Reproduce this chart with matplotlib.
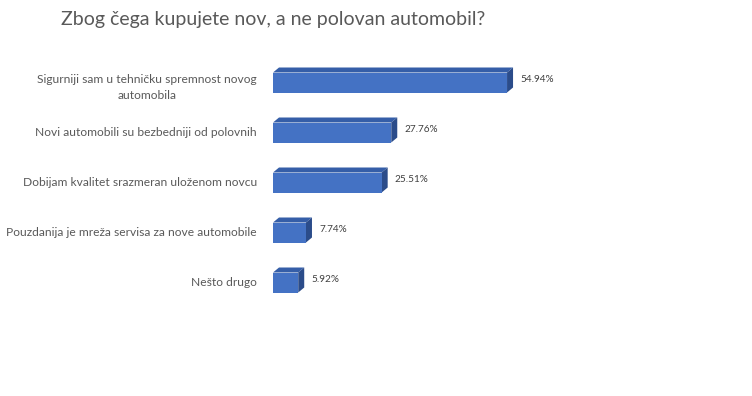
import matplotlib.pyplot as plt
from matplotlib.patches import Polygon

categories = [
    "Sigurniji sam u tehničku spremnost novog\nautomobila",
    "Novi automobili su bezbedniji od polovnih",
    "Dobijam kvalitet srazmeran uloženom novcu",
    "Pouzdanija je mreža servisa za nove automobile",
    "Nešto drugo",
]
values = [54.94, 27.76, 25.51, 7.74, 5.92]
value_labels = ["54.94%", "27.76%", "25.51%", "7.74%", "5.92%"]

FRONT = "#4472C4"
TOP = "#355EA8"
SIDE = "#2B4C8A"
TEXT = "#595959"

W, H = 752, 396
fig = plt.figure(figsize=(W / 100, H / 100), dpi=100)
plt.rcParams["font.family"] = ["Lato", "DejaVu Sans"]

# axes placed so that 0% sits where the bars start
ax_left, ax_right = 273, 699
ax_top, ax_bottom = 57.5, 307.5
ax = fig.add_axes([ax_left / W, 1 - ax_bottom / H,
                   (ax_right - ax_left) / W, (ax_bottom - ax_top) / H])
ax.set_xlim(0, 100)
ax.set_ylim(len(categories) - 0.5, -0.5)
ax.axis("off")

px_x = 100 / (ax_right - ax_left)       # percent per pixel
px_y = len(categories) / (ax_bottom - ax_top)  # category units per pixel
dx, dy = 6 * px_x, 5 * px_y
bar_h = 20 * px_y

ys = list(range(len(categories)))
ax.barh(ys, values, height=bar_h, color=FRONT, zorder=3)

for y, v, lab, cat in zip(ys, values, value_labels, categories):
    top = y - bar_h / 2
    bot = y + bar_h / 2
    # top face
    ax.add_patch(Polygon([(0, top), (v, top), (v + dx, top - dy), (dx, top - dy)],
                         closed=True, facecolor=TOP, edgecolor="none", zorder=2))
    # side face
    ax.add_patch(Polygon([(v, top), (v + dx, top - dy), (v + dx, bot - dy), (v, bot)],
                         closed=True, facecolor=SIDE, edgecolor="none", zorder=2))
    ax.text(v + dx + 7 * px_x, y - dy / 2, lab, ha="left", va="center",
            fontsize=7.2, color="#404040")
    ax.text(-16 * px_x, y + 5 * px_y if "\n" in cat else y, cat, ha="right", va="center",
            multialignment="center", fontsize=8.65, color=TEXT, clip_on=False,
            linespacing=1.5)

fig.text(273 / W, 1 - 19 / H, "Zbog čega kupujete nov, a ne polovan automobil?",
         ha="center", va="center", fontsize=14, color=TEXT)

fig.savefig("out.png", dpi=100, facecolor="white")
